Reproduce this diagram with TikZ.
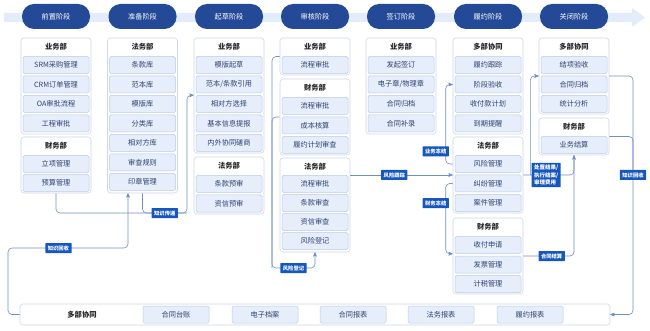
\documentclass[tikz,border=0pt]{standalone}
\usepackage{fontspec}
\setmainfont{Noto Sans CJK SC}
\usepackage{tikz}
\usetikzlibrary{shapes,arrows,positioning,calc}
\definecolor{cpill}{RGB}{36,73,151}
\definecolor{cband}{RGB}{226,236,250}
\definecolor{cgrp}{RGB}{205,215,232}
\definecolor{citem}{RGB}{230,238,251}
\definecolor{citemline}{RGB}{186,202,229}
\definecolor{citemtxt}{RGB}{45,66,112}
\definecolor{cline}{RGB}{112,142,196}
\definecolor{clbl}{RGB}{22,86,191}
\tikzset{grp/.style={draw=cgrp, fill=white, rounded corners=3pt, minimum width=70pt, inner sep=0pt, line width=0.6pt}}
\tikzset{item/.style={draw=citemline, fill=citem, rounded corners=1.5pt, minimum width=66pt, minimum height=17pt, inner sep=0pt, text=citemtxt, font=\fontsize{7.2}{8}\selectfont, line width=0.5pt}}
\tikzset{ttl/.style={inner sep=0pt, text=black!85, font=\bfseries\fontsize{7.3}{8}\selectfont}}
\tikzset{stage/.style={fill=cpill, rounded corners=12pt, minimum width=68pt, minimum height=25pt, text=white, font=\fontsize{7.2}{8}\selectfont}}
\tikzset{lbl/.style={fill=clbl, text=white, rounded corners=0.5pt, inner xsep=2.5pt, inner ysep=0pt, minimum height=10pt, font=\bfseries\fontsize{5.3}{6}\selectfont}}
\tikzset{arr/.style={->, >=stealth', line width=0.6pt, draw=cline, rounded corners=4pt}}
\tikzset{lnk/.style={line width=0.6pt, draw=cline, rounded corners=4pt}}

\begin{document}
\begin{tikzpicture}[x=1pt, y=-1pt]
        \useasboundingbox (0,0) rectangle (650,331);

        %%% STAGE BAND %%%
        \fill[cband] (4,13) -- (632,13) -- (632,8) -- (645,17.5) -- (632,27) -- (632,22) -- (4,22) -- cycle;
        \node[stage] (pre) at (56,16.5) {前置阶段};
        \node[stage] (prep) at (142.5,16.5) {准备阶段};
        \node[stage] (draft) at (229,16.5) {起草阶段};
        \node[stage] (audit) at (315,16.5) {审核阶段};
        \node[stage] (sign) at (401,16.5) {签订阶段};
        \node[stage] (perf) at (488,16.5) {履约阶段};
        \node[stage] (close) at (574,16.5) {关闭阶段};

        %%% COL 1: PRE %%%
        \node[grp, minimum height=96pt] (prebiz) at (56,86) {};
        \node[ttl] (prebizt) at (56,47) {业务部};
        \node[item] (srm) at (56,65) {SRM采购管理};
        \node[item] (crm) at (56,84.5) {CRM订单管理};
        \node[item] (oa) at (56,104) {OA审批流程};
        \node[item] (eng) at (56,123.5) {工程审批};
        \node[grp, minimum height=56pt] (prefin) at (56,165) {};
        \node[ttl] (prefint) at (56,146) {财务部};
        \node[item] (lix) at (56,164) {立项管理};
        \node[item] (bud) at (56,183) {预算管理};

        %%% COL 2: PREP %%%
        \node[grp, minimum height=155pt] (preplaw) at (142.5,115.5) {};
        \node[ttl] (preplawt) at (142.5,47) {法务部};
        \node[item] (tk) at (142.5,65) {条款库};
        \node[item] (fb) at (142.5,84.5) {范本库};
        \node[item] (mb) at (142.5,104) {模版库};
        \node[item] (fl) at (142.5,123.5) {分类库};
        \node[item] (xdf) at (142.5,143) {相对方库};
        \node[item] (scgz) at (142.5,162.5) {审查规则};
        \node[item] (yz) at (142.5,182) {印章管理};

        %%% COL 3: DRAFT %%%
        \node[grp, minimum height=115pt] (draftbiz) at (229,95.5) {};
        \node[ttl] (draftbizt) at (229,47) {业务部};
        \node[item] (mbqc) at (229,65) {模版起草};
        \node[item] (fbyy) at (229,84.5) {范本/条款引用};
        \node[item] (xdxz) at (229,104) {相对方选择};
        \node[item] (jbxx) at (229,123.5) {基本信息提报};
        \node[item] (nwxs) at (229,143) {内外协同磋商};
        \node[grp, minimum height=57pt] (draftlaw) at (229,185.5) {};
        \node[ttl] (draftlawt) at (229,166) {法务部};
        \node[item] (tkys) at (229,184) {条款预审};
        \node[item] (zxys) at (229,203.5) {资信预审};

        %%% COL 4: AUDIT %%%
        \node[grp, minimum height=37pt] (auditbiz) at (315,56.5) {};
        \node[ttl] (auditbizt) at (315,47) {业务部};
        \node[item] (bizlc) at (315,65) {流程审批};
        \node[grp, minimum height=76pt] (auditfin) at (315,117) {};
        \node[ttl] (auditfint) at (315,88) {财务部};
        \node[item] (finlc) at (315,106) {流程审批};
        \node[item] (cbhs) at (315,125.5) {成本核算};
        \node[item] (lyjh) at (315,145) {履约计划审查};
        \node[grp, minimum height=94pt] (auditlaw) at (315,205) {};
        \node[ttl] (auditlawt) at (315,167) {法务部};
        \node[item] (lawlc) at (315,184) {流程审批};
        \node[item] (tksc) at (315,203) {条款审查};
        \node[item] (zxsc) at (315,222) {资信审查};
        \node[item] (fxdj) at (315,241) {风险登记};

        %%% COL 5: SIGN %%%
        \node[grp, minimum height=96pt] (signbiz) at (401,86) {};
        \node[ttl] (signbizt) at (401,47) {业务部};
        \node[item] (fqqd) at (401,65) {发起签订};
        \node[item] (dzz) at (401,84.5) {电子章/物理章};
        \node[item] (htgd) at (401,104) {合同归档};
        \node[item] (htbl) at (401,123.5) {合同补录};

        %%% COL 6: PERF %%%
        \node[grp, minimum height=96pt] (perfco) at (488,86) {};
        \node[ttl] (perfcot) at (488,47) {多部协同};
        \node[item] (lygz) at (488,65) {履约跟踪};
        \node[item] (jdys) at (488,84.5) {阶段验收};
        \node[item] (sfk) at (488,104) {收付款计划};
        \node[item] (dqtx) at (488,123.5) {到期提醒};
        \node[grp, minimum height=76pt] (perflaw) at (488,175) {};
        \node[ttl] (perflawt) at (488,146) {法务部};
        \node[item] (fxgl) at (488,164) {风险管理};
        \node[item] (jfgl) at (488,183.5) {纠纷管理};
        \node[item] (ajgl) at (488,203) {案件管理};
        \node[grp, minimum height=76pt] (perffin) at (488,256) {};
        \node[ttl] (perffint) at (488,227) {财务部};
        \node[item] (sfsq) at (488,245) {收付申请};
        \node[item] (fpgl) at (488,264.5) {发票管理};
        \node[item] (jsgl) at (488,284) {计税管理};

        %%% COL 7: CLOSE %%%
        \node[grp, minimum height=76pt] (closeco) at (574,76) {};
        \node[ttl] (closecot) at (574,47) {多部协同};
        \node[item] (jxys) at (574,65) {结项验收};
        \node[item] (htgd2) at (574,84.5) {合同归档};
        \node[item] (tjfx) at (574,104) {统计分析};
        \node[grp, minimum height=37pt] (closefin) at (574,136.5) {};
        \node[ttl] (closefint) at (574,127) {财务部};
        \node[item] (ywjs) at (574,145) {业务结算};

        %%% BOTTOM BAR %%%
        \node[grp, minimum width=590pt, minimum height=21pt] (bar) at (315,314.5) {};
        \node[ttl] (bart) at (82,314.5) {多部协同};
        \node[item] (htz) at (176,314.5) {合同台账};
        \node[item] (dzda) at (265,314.5) {电子档案};
        \node[item] (htbb) at (353,314.5) {合同报表};
        \node[item] (fwbb) at (441,314.5) {法务报表};
        \node[item] (lybb) at (530,314.5) {履约报表};

        %%% ARROWS %%%
        \coordinate (kt) at (187,213);
        \draw[lnk] (prefin.south) |- (kt);
        \draw[arr] (preplaw.south) |- (kt) node[lbl, pos=0.75] {知识传递} |- (draftbiz.west |- xdxz.north);

        \coordinate (kr) at (8,248);
        \draw[arr] (bar.west) -| (kr) -| ([xshift=-14.5pt]preplaw.south) node[lbl, pos=0.21] {知识回收};

        \coordinate (rd) at (272,268);
        \draw[lnk] (auditbiz.west) -| (rd);
        \draw[arr] (auditfin.west) -| (rd) -| (auditlaw.south) node[lbl, pos=0.25] {风险登记};

        \draw[arr] (auditlaw.east |- perflaw.west) -- (perflaw.west) node[lbl, pos=0.43] {风险跟踪};

        \draw[arr] (perflaw.west |- fxgl) -- ++(-7,0) |- (perfco.west |- jdys) node[lbl, pos=0.08, xshift=-10pt] {业务冻结};
        \draw[arr] (perflaw.west |- jfgl) -- ++(-7,0) |- (perffin.west |- sfsq.south) node[lbl, pos=0.14, xshift=-10pt] {财务冻结};

        \draw[arr] (perffin.east) -| (closefin.south) node[lbl, pos=0.28] {合同结算};
        \coordinate (dz) at ($(perflaw.east)+(7,0)$);
        \draw[arr] (dz) |- (closeco.west);
        \draw[lnk] (perflaw.east) -| (closefin.south)
            node[lbl, pos=0.225, align=left, inner ysep=2pt, font=\bfseries\fontsize{5.5}{7.5}\selectfont] {处置结果/\\执行结案/\\审理费用};

        \coordinate (kr2) at (633,175);
        \draw[lnk] (closefin.east) -| (kr2);
        \draw[arr] (closeco.east) -| (kr2) node[lbl] {知识回收} |- (bar.east);
    \end{tikzpicture}
\end{document}
